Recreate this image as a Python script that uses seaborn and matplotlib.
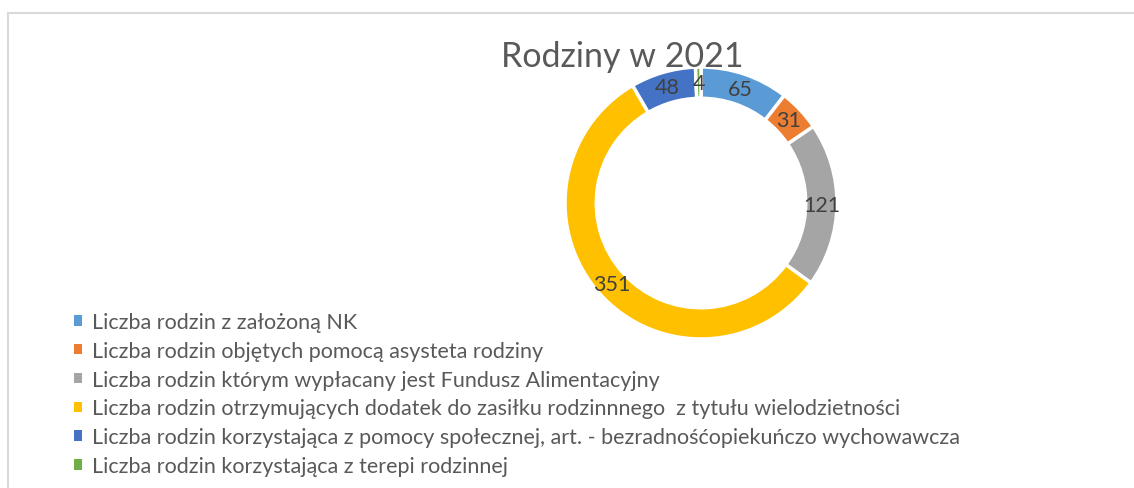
import matplotlib
matplotlib.use("Agg")
import matplotlib.pyplot as plt
from matplotlib.patches import Patch, Rectangle
import seaborn as sns

# dane z wykresu
kategorie = [
    "Liczba rodzin z założoną NK",
    "Liczba rodzin objętych pomocą asysteta rodziny",
    "Liczba rodzin którym wypłacany jest Fundusz Alimentacyjny",
    "Liczba rodzin otrzymujących dodatek do zasiłku rodzinnnego  z tytułu wielodzietności",
    "Liczba rodzin korzystająca z pomocy społecznej, art. - bezradnośćopiekuńczo wychowawcza",
    "Liczba rodzin korzystająca z terepi rodzinnej",
]
wartosci = [65, 31, 121, 351, 48, 4]
kolory = ["#5B9BD5", "#ED7D31", "#A5A5A5", "#FFC000", "#4472C4", "#70AD47"]

sns.set_theme(style="white")
plt.rcParams["font.family"] = ["Lato", "DejaVu Sans"]

W, H = 1134, 489
fig = plt.figure(figsize=(W / 100, H / 100), dpi=100)

# ramka wykresu (gora i lewa krawedz)
fig.add_artist(Rectangle((7.5 / W, -0.2), 2, 1.2 - 13.5 / H, transform=fig.transFigure,
                         fill=False, edgecolor="#d9d9d9", lw=1.5))

# pierscien
cx, cy, r = 701, 204, 136
ax = fig.add_axes([(cx - r) / W, 1 - (cy + r) / H, 2 * r / W, 2 * r / H])
total = sum(wartosci)
wedges, _, autotexts = ax.pie(
    wartosci, colors=sns.color_palette(kolory), startangle=90, counterclock=False,
    radius=1, wedgeprops=dict(width=0.23, edgecolor="white", linewidth=2.5),
    autopct=lambda p: f"{round(p * total / 100)}", pctdistance=0.886,
    textprops=dict(color="#404040", fontsize=15.5),
)
ax.set_xlim(-1, 1)
ax.set_ylim(-1, 1)
ax.set_aspect("equal")
ax.axis("off")

fig.text(622 / W, 1 - 57 / H, "Rodziny w 2021", ha="center", va="center",
         fontsize=24.5, color="#595959")

uchwyty = [Patch(facecolor=k, edgecolor="none") for k in kolory]
fig.legend(uchwyty, kategorie, loc="upper left", bbox_to_anchor=(74 / W, 1 - 313 / H),
           frameon=False, fontsize=15.5, handlelength=0.37, handleheight=0.37,
           handletextpad=0.45, labelspacing=0.41, borderaxespad=0, borderpad=0,
           labelcolor="#595959")

fig.savefig("out.png", dpi=100)
